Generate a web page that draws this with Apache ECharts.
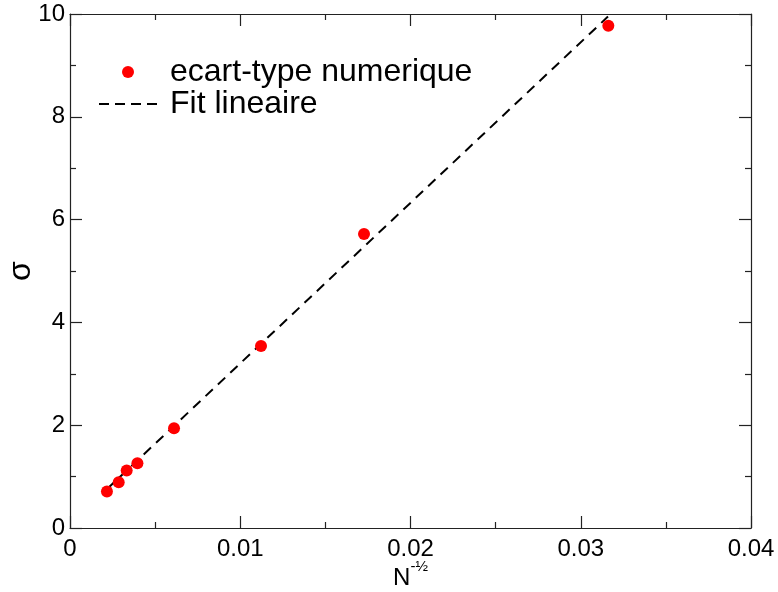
<!DOCTYPE html>
<html><head><meta charset="utf-8">
<script src="https://cdn.jsdelivr.net/npm/echarts@6/dist/echarts.min.js"></script>
<style>html,body{margin:0;padding:0;background:#fff}#c{width:778px;height:592px}</style>
</head><body><div id="c"></div>
<script>
var xVals = [0.00217, 0.00286, 0.00333, 0.00396, 0.00611, 0.01122, 0.01727, 0.03162];
var sigmaVals = [0.71, 0.89, 1.12, 1.26, 1.94, 3.54, 5.72, 9.77];
var fitX = [0.00215, 0.0316];
var fitY = [0.75, 9.95];
var xTicks = [0, 0.01, 0.02, 0.03, 0.04];
var yTicks = [0, 2, 4, 6, 8, 10];
var seriesNames = ['ecart-type numerique', 'Fit lineaire'];

var FONT = 'Liberation Sans, Arial, Helvetica, sans-serif';
function pairs(a, b){ return a.map(function(v,i){ return [v, b[i]]; }); }
function axisCommon(showLabel, margin){
  return {
    axisLine: {show: true, onZero: false, lineStyle: {color: '#222', width: 1.2}},
    axisTick: {show: true, inside: true, length: 12, lineStyle: {color: '#222', width: 1.2}},
    minorTick: {show: true, splitNumber: 2, length: 6, lineStyle: {color: '#222', width: 1.2}},
    splitLine: {show: false},
    axisLabel: {show: showLabel, color: '#000', fontSize: 24, fontFamily: FONT, margin: margin || 8}
  };
}
var chart = echarts.init(document.getElementById('c'));
var xb = Object.assign({type: 'value', min: xTicks[0], max: xTicks[xTicks.length-1], interval: 0.01, position: 'bottom',
  name: '{n|N}{s|-½}', nameLocation: 'middle', nameGap: 31, nameMoveOverlap: false,
  nameTextStyle: {rich: {n: {fontSize: 24, fontFamily: FONT, color: '#000', verticalAlign: 'bottom'}, s: {fontSize: 15, fontFamily: FONT, color: '#000', verticalAlign: 'top', padding:[0,0,16,0]}}}
}, axisCommon(true, 9));
xb.axisLabel.formatter = function(v){ return v === 0 ? '0' : String(+v.toFixed(2)); };
var xt = Object.assign({type: 'value', min: xTicks[0], max: xTicks[xTicks.length-1], interval: 0.01, position: 'top'}, axisCommon(false));
var yl = Object.assign({type: 'value', min: yTicks[0], max: yTicks[yTicks.length-1], interval: 2, position: 'left',
  name: 'σ', nameLocation: 'middle', nameGap: 33, nameMoveOverlap: false, nameTextStyle: {fontSize: 32, fontFamily: FONT, color: '#000'}}, axisCommon(true, 5));
var yr = Object.assign({type: 'value', min: yTicks[0], max: yTicks[yTicks.length-1], interval: 2, position: 'right'}, axisCommon(false));

chart.setOption({
  animation: false,
  backgroundColor: '#fff',
  grid: {left: 70, right: 27, top: 14, bottom: 64, containLabel: false, outerBoundsMode: 'none'},
  xAxis: [xb, xt],
  yAxis: [yl, yr],
  legend: {
    orient: 'vertical', left: 94, top: 51, itemWidth: 58, itemHeight: 12, itemGap: 0,
    textStyle: {fontSize: 32, fontFamily: FONT, color: '#000', lineHeight: 32, padding: [0,0,0,8]},
    data: [
      {name: seriesNames[0], icon: 'circle'},
      {name: seriesNames[1], icon: 'path://M0,5h10v2h-10z M16,5h10v2h-10z M32,5h10v2h-10z M48,5h10v2h-10z'}
    ]
  },
  series: [
    {name: seriesNames[1], type: 'line', data: pairs(fitX, fitY), symbol: 'none', z: 1,
      lineStyle: {color: '#000', width: 2, type: [10, 7]}, itemStyle: {color: '#000'}},
    {name: seriesNames[0], type: 'scatter', data: pairs(xVals, sigmaVals), symbol: 'circle', symbolSize: 12, z: 3,
      itemStyle: {color: '#ff0000', opacity: 1}}
  ]
});
</script></body></html>
